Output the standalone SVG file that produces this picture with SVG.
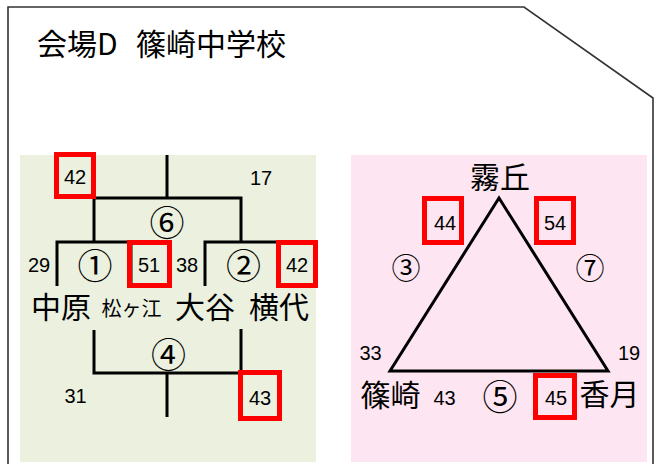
<svg xmlns="http://www.w3.org/2000/svg" width="659" height="464" viewBox="0 0 659 464">
<style>
.j{font-family:"Noto Sans CJK JP",sans-serif;fill:#000}
.n{font-family:"Liberation Sans",Arial,sans-serif;font-size:20px;fill:#000;text-anchor:middle}
.t{font-size:30px}
.c{font-size:35px;text-anchor:middle}
.s{font-size:29px}
.m{text-anchor:middle}
.ln{fill:none;stroke:#000;stroke-width:3}
.box{fill:none;stroke:#ff0000;stroke-width:5}
</style>
<rect width="659" height="464" fill="#fff"/>
<path d="M8,464 V7 H524 L653,98 V464" fill="none" stroke="#333" stroke-width="1.6"/>
<rect x="20" y="155" width="296" height="307" fill="#ebf0df"/>
<rect x="351" y="155" width="296" height="307" fill="#fde6f1"/>
<text class="j t" x="37" y="55">会場D<tspan x="136">篠崎中学校</tspan></text>
<g id="connectors">
<path class="ln" d="M167,155 V198 M94,241 V198 H241 V241"/>
<path class="ln" d="M57,286 V242 H131 V286"/>
<path class="ln" d="M205,286 V242 H279 V286"/>
<path class="ln" d="M94,330 V373 H241 V329 M167,373 V417"/>
<path class="ln" d="M499,198 L390,371 H608 Z" stroke-linejoin="miter"/>
</g>
<g id="left">
<rect class="box" x="56.5" y="154.5" width="37" height="42"/>
<text class="n" x="75" y="184">42</text>
<text class="n" x="261" y="185">17</text>
<text class="j c" x="167" y="236">⑥</text>
<text class="n" x="39" y="272">29</text>
<text class="j c" x="95" y="279">①</text>
<rect class="box" x="129.5" y="242.5" width="40" height="43"/>
<text class="n" x="149" y="272">51</text>
<text class="n" x="187" y="272">38</text>
<text class="j c" x="243.5" y="279">②</text>
<rect class="box" x="278.5" y="242.5" width="37" height="43"/>
<text class="n" x="297" y="272">42</text>
</g>
<g id="teams-left">
<text class="j t m" x="61" y="318">中原</text>
<text class="j m" x="131.5" y="316" font-size="20">松ヶ江</text>
<text class="j t m" x="205" y="318">大谷</text>
<text class="j t m" x="279" y="318">横代</text>
</g>
<g id="bottom-left">
<text class="j c" x="168.5" y="368">④</text>
<text class="n" x="75.5" y="403">31</text>
<rect class="box" x="240.5" y="372.5" width="39" height="46"/>
<text class="n" x="260" y="405">43</text>
</g>
<g id="right">
<text class="j t m" x="500" y="188">霧丘</text>
<rect class="box" x="424.5" y="198.5" width="37" height="44"/>
<text class="n" x="445" y="230">44</text>
<rect class="box" x="536.5" y="198.5" width="37" height="44"/>
<text class="n" x="555" y="230">54</text>
<text class="j c s" x="406" y="279">③</text>
<text class="j c s" x="590" y="279">⑦</text>
<text class="n" x="370.5" y="360">33</text>
<text class="n" x="629" y="360">19</text>
<text class="j t m" x="390.5" y="406">篠崎</text>
<text class="n" x="444.5" y="405">43</text>
<text class="j c" x="500" y="410">⑤</text>
<rect class="box" x="535.5" y="375.5" width="39" height="42"/>
<text class="n" x="556" y="405">45</text>
<text class="j t m" x="609.5" y="405">香月</text>
</g>
</svg>
